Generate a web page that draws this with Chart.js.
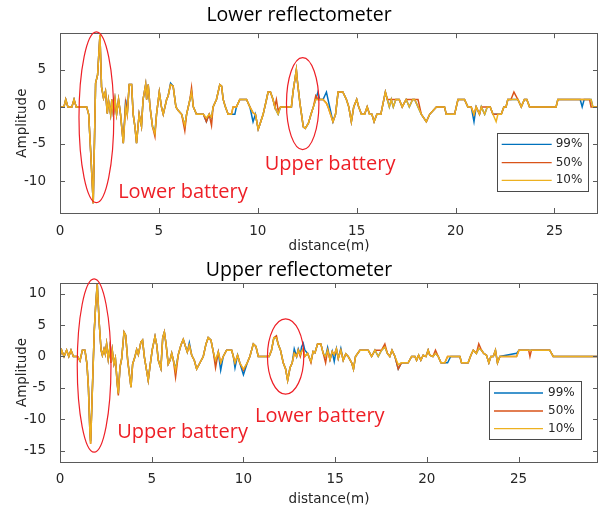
<!DOCTYPE html>
<html>
<head>
<meta charset="utf-8">
<script src="https://cdn.jsdelivr.net/npm/chart.js@4.4.0/dist/chart.umd.min.js"></script>
<style>
  html, body { margin: 0; padding: 0; background: #fff; }
  .plot { position: relative; width: 599px; height: 253px; }
</style>
</head>
<body>
<div class="plot"><canvas id="lowerChart" width="599" height="253"></canvas></div>
<div class="plot"><canvas id="upperChart" width="599" height="253"></canvas></div>
<script>
// —————— DATA ——————
const seriesLabels = ['99%', '50%', '10%'];
const seriesColors = ['#0072BD', '#D95319', '#EDB120'];

const xTicks = [0, 5, 10, 15, 20, 25];
const lowerYTicks = [-10, -5, 0, 5];
const upperYTicks = [-15, -10, -5, 0, 5, 10];

// Lower reflectometer (distance in m)
const lowerDist = [
  0.00, 0.20, 0.29, 0.40, 0.60, 0.71, 0.82, 1.35, 1.45, 1.55,
  1.68, 1.80, 1.90, 2.02, 2.10, 2.20, 2.30, 2.39, 2.45, 2.56,
  2.62, 2.70, 2.78, 2.86, 2.96, 3.06, 3.20, 3.32, 3.40, 3.50,
  3.62, 3.70, 3.79, 3.87, 4.00, 4.12, 4.20, 4.33, 4.38, 4.46,
  4.55, 4.68, 4.80, 4.88, 5.02, 5.13, 5.22, 5.39, 5.47, 5.59,
  5.72, 5.86, 5.98, 6.15, 6.31, 6.40, 6.57, 6.65, 6.74, 6.90,
  7.07, 7.25, 7.40, 7.54, 7.66, 7.74, 7.91, 8.08, 8.17, 8.25,
  8.36, 8.50, 8.67, 8.75, 8.84, 8.92, 9.09, 9.43, 9.60, 9.76,
  9.88, 10.02, 10.10, 10.27, 10.44, 10.52, 10.64, 10.77, 10.86, 10.94,
  11.03, 11.15, 11.70, 11.78, 11.95, 12.00, 12.13, 12.20, 12.30, 12.40,
  12.56, 12.69, 12.81, 12.93, 13.04, 13.13, 13.30, 13.47, 13.55, 13.80,
  13.93, 14.06, 14.30, 14.48, 14.60, 14.73, 14.85, 15.00, 15.10, 15.24,
  15.40, 15.53, 15.65, 15.77, 15.88, 16.02, 16.22, 16.45, 16.55, 16.65,
  16.75, 16.85, 16.98, 17.15, 17.30, 17.50, 17.66, 17.83, 17.93, 18.10,
  18.27, 18.52, 18.69, 19.03, 19.44, 19.53, 19.95, 20.12, 20.45, 20.62,
  20.79, 20.93, 21.04, 21.21, 21.30, 21.47, 21.60, 21.75, 21.89, 22.05,
  22.14, 22.31, 22.44, 22.55, 22.64, 22.80, 22.95, 23.15, 23.32, 23.48,
  23.60, 23.74, 25.08, 25.17, 26.30, 26.40, 26.50, 26.77, 26.85, 26.94,
  27.30
];
const lower99 = [
  0, 0, 1, 0, 0, 1, 0, 0, -1, -6,
  -13, 3.2, 4.3, 9.7, 2.7, 1.2, 2.1, -0.9, 0.9, -1,
  1, -1, 1, -1, 1, -1, -4.9, 1, -1, 3,
  3, -1, -2.7, -4.9, -1, -2.6, 1, 3, 1, 3,
  0, -2.7, -3.4, -1, 2, 0, -1, 1, 1.5, 3.2,
  2.8, 0, -0.5, -1, -2.5, -1, 1, 2, 0, -1,
  -1, -1, -2, -1, -1.5, 0, 1, 3, 2.8, 1,
  0, -1, -1, -1, -1, 0, 1, 1, 0, -2,
  -1, -3, -2.4, -1, 1, 2, 2, 1, 0, -0.5,
  -1, 0, 0, 2, 5, 3.5, 0.5, -0.8, -2.7, -2.9,
  -2.2, -1, 0, 1, 2, 1, 1, 2, 1, -2,
  -1, 2, 2, 1, 0, -2, 0, 1, 0, -1,
  -1, 0, -1, -1, -2, -1, -1, 2, 1, 0,
  1, 0, 1, 1, 0, 1, 0, 1, 1, 0,
  -1, -2, -1, 0, 0, -1, -1, 1, 1, 0,
  0, -2, 0, -1, 0, -1, 0, 0, -1, -1,
  -1, -1, 0, 0, 1, 1, 1, 1, 0, 1,
  1, 0, 0, 1, 1, 0, 1, 1, 1, 0,
  0
];
const lower50 = [
  0, 0, 1, 0, 0, 1, 0, 0, -1, -6,
  -13, 3.2, 4.3, 9.7, 2.7, 1.2, 2.1, -0.9, 0.9, -1,
  1, -1, 1, -1, 1, -1, -4.9, 0.5, -1, 3,
  3, -1, -2.7, -4.9, -1, -2.6, 1, 3, 1, 3,
  0, -2.7, -4, -1, 2, 0, -1, 1, 1.5, 3,
  2.8, 0, -0.5, -1, -3.2, -1, 1, 2.6, 0, -1,
  -1, -1, -2, -1, -2.5, 0, 1, 3, 2.8, 1,
  0, -1, -1, 0, 0, 0, 1, 1, 0, -0.8,
  -1, -3, -2.4, -1, 1, 2, 2, 1, 0, 1,
  -0.5, 0, 0, 2, 5, 3.5, 0.5, -0.8, -2.7, -2.9,
  -2.2, -1, 0, 1.5, 1, 1, 1, 0.5, 0, -2,
  -1, 2, 2, 1, 0, -2, 0, 1, 0, -1,
  -1, 0, -1, -1, -2, -1, -1, 2, 1, 1,
  1, 1, 1, 1, 0, 1, 1, 1, 1, 1,
  -1, -2, -1, 0, 0, -1, -1, 1, 1, 0,
  0, -1, 0, -1, 0, 0, 0, 0, -1, -1,
  -1, -1, 0, 0, 1, 1, 2, 1, 0, 1,
  1, 0, 0, 1, 1, 1, 1, 1, 0, 0,
  0
];
const lower10 = [
  0, 0, 1, 0, 0, 1, 0, 0, -1, -6,
  -13, 3.2, 4.3, 9.7, 2.7, 1.2, 2.1, -0.9, 0.9, -1,
  1, -1, 1, -1, 1, -1, -4.9, 0, -1, 3,
  3, -1, -2.7, -4.9, -1, -2.6, 1, 3, 1, 3,
  0, -2.7, -3.6, -1, 2, 0, -1, 1, 1.5, 3,
  2.8, 0, -0.5, -1, -2.5, -1, 1, 2, 0, -1,
  -1, -1, -1.5, -1, -1.4, 0, 1, 3, 2.8, 1,
  0, -1, -1, 0, 0, 0, 1, 1, 0, -0.8,
  -1, -3, -2.4, -1, 1, 2, 2, 1, 0, -0.5,
  -1, 0, 0, 2, 5, 3.5, 0.5, -0.8, -2.7, -2.9,
  -2.2, -1, 0, 1, 1, 1, 1, 0.5, 0, -2,
  -1, 2, 2, 1, 0, -2, 0, 1, 0, -1,
  -1, 0, -1, -1, -2, -1, -1, 2, 1, 0,
  1, 0, 1, 1, 0, 1, 0, 1, 1, 0,
  -1, -2, -1, 0, 0, -1, -1, 1, 1, 0,
  0, -1, 0, -1, 0, -1, 0, 0, -1, -2,
  -1, -1, 0, 0, 1, 1, 1, 1, 0, 1,
  1, 0, 0, 1, 1, 1, 1, 1, 1, 0,
  0
];

// Upper reflectometer (distance in m)
const upperDist = [
  0.00, 0.09, 0.22, 0.36, 0.48, 0.60, 0.73, 0.96, 1.09, 1.22,
  1.36, 1.47, 1.55, 1.63, 1.67, 1.87, 1.94, 2.03, 2.14, 2.24,
  2.31, 2.40, 2.47, 2.54, 2.63, 2.72, 2.78, 2.85, 2.94, 3.02,
  3.12, 3.18, 3.27, 3.36, 3.49, 3.58, 3.69, 3.87, 3.96, 4.09,
  4.18, 4.27, 4.41, 4.50, 4.60, 4.72, 4.81, 4.90, 5.03, 5.18,
  5.27, 5.36, 5.50, 5.60, 5.69, 5.78, 5.90, 6.00, 6.09, 6.18,
  6.30, 6.45, 6.59, 6.72, 6.85, 6.94, 7.05, 7.18, 7.32, 7.45,
  7.63, 7.81, 7.96, 8.08, 8.23, 8.36, 8.48, 8.63, 8.76, 8.90,
  9.08, 9.36, 9.45, 9.54, 9.68, 9.80, 10.00, 10.21, 10.35, 10.54,
  10.68, 10.81, 11.40, 11.53, 11.66, 11.80, 11.89, 12.02, 12.17, 12.30,
  12.41, 12.54, 12.66, 12.77, 12.90, 12.99, 13.10, 13.17, 13.26, 13.35,
  13.50, 13.68, 13.80, 13.90, 14.04, 14.22, 14.35, 14.48, 14.59, 14.72,
  14.84, 14.95, 15.07, 15.17, 15.31, 15.44, 15.58, 15.71, 15.90, 16.00,
  16.11, 16.35, 16.80, 16.99, 17.17, 17.35, 17.53, 17.71, 17.85, 17.98,
  18.10, 18.26, 18.44, 18.62, 18.98, 19.17, 19.35, 19.44, 19.55, 19.67,
  19.80, 19.95, 20.07, 20.16, 20.33, 20.47, 20.62, 20.77, 20.98, 21.13,
  21.30, 21.80, 21.89, 22.25, 22.40, 22.53, 22.70, 22.83, 22.98, 23.10,
  23.25, 23.38, 23.49, 23.62, 23.74, 23.85, 23.98, 24.89, 25.02, 25.55,
  25.62, 25.70, 26.70, 26.89, 29.30, 29.40
];
const upper99 = [
  0, 1, 0, 1, 0, 1, 0, 0, -0.7, 1,
  1, -1.2, -5, -12, -13.5, 4.2, 7.9, 11.7, 5.2, 1,
  0.2, 1.2, 0.4, 2, -0.4, 1.5, -1, 1, -1.2, -0.3,
  -4.3, -5.9, -1.7, -0.4, 3.9, 3.4, -0.6, -4.9, -1.2, 0,
  1.1, 0.3, 2.3, 2.6, -0.1, -2.2, -3.8, -1.7, 1.1, 3.2,
  1.9, -0.6, -1.9, 3, 3.9, 2, -1.2, -0.6, 0.5, -0.6,
  -2, 0.3, 1.8, 2.7, 1.5, 0.7, 2.2, 0.2, -0.6, -2,
  -1, 0, 2, 3, 2.6, 0.7, -1, 0.7, -2.2, 0,
  1, 1, 0, -1.8, 0.2, -1, -2.9, -1, 0, 2,
  1.6, 0, 0, 1, 3, 3, 2, 1, -1, -2,
  -3.8, -1.8, -1, 1.2, 0, 1.2, 0.3, 1.5, 2.1, 1,
  0.5, -0.8, 0.8, 0.6, 2, 2, 0.5, 0, 1.4, -0.5,
  0.8, -0.8, 1.2, -0.3, 1.3, -0.6, 0.4, 0, -1, -2,
  0, 1, 1, 0, 1, 0, 1, 1.5, 0.5, 0,
  1, 0, -2, -1, -1, 0, 0, -0.6, 0.2, -0.6,
  0.2, 0, 1, 0.2, 0, 0.5, 0, -1, -1, -1,
  0, 0, -1, -1, 0.2, 1, 0.5, 1.3, 1, 0.5,
  0.2, -1, 0, 0, 1, -1, 0, 0.5, 1, 1,
  1, 1, 1, 0, 0, 0.5
];
const upper50 = [
  0, 1, 0, 1, 0, 1, 0, 0, -0.7, 1,
  1, -1.2, -5, -12, -13.9, 4.2, 7.9, 11.5, 5.2, 1,
  0.2, 1.2, 0.4, 2, -0.4, 1.5, -1, 1, -1.2, -0.3,
  -4.3, -6.2, -1.7, -0.4, 3.9, 3.4, -0.6, -4.9, -1.2, 0,
  1.1, 0.3, 2.3, 2.6, -0.1, -2.2, -3.8, -1.7, 1.1, 3.2,
  1.9, -0.6, -1.9, 3, 3.9, 2, -1.2, -0.6, 0.5, -0.6,
  -3.3, 0.3, 1.8, 2.7, 1.5, 0.7, 1.8, 0.2, -0.6, -2,
  -1, 0, 2, 3, 2.6, 0.7, -1.8, 0.7, -1, 0,
  1, 1, 0, -1, 0.2, -1, -2.2, -1, 0, 2,
  1.6, 0, 0, 1, 3, 3.3, 2, 1, -1, -2,
  -3.8, -1.8, -1, 0.5, 0, 1, 0, 0.8, 1.2, 0,
  0.5, -1, 0.8, 0.6, 2, 2, 0.5, -1, 1, -0.5,
  0.8, 0.3, 1.2, -0.3, 1, -0.6, 0.4, 0, -1, -2,
  0, 1, 1, 0, 1, 1, 1, 2, 0.5, 0,
  1, 0, -2, -1, -1, 0, 0, -0.6, 0.2, -0.6,
  0.2, 0, 1, 0.2, 0, 1, 0, -1, -1, 0,
  0, 0, -1, -1, 0.2, 1, 0.5, 2, 1, 0.5,
  0.2, -1, 0, 0, 1, -1, 0, 0, 1, 1,
  0, 1, 1, 0, 0, 0.5
];
const upper10 = [
  0, 1, 0, 1, 0, 1, 0, 0, -0.7, 1,
  1, -1.2, -5, -12, -13.9, 4.2, 7.9, 11.5, 5.2, 1,
  0.2, 1.2, 0.4, 2, -0.4, 1.5, -1, 1, -1.2, -0.3,
  -4.3, -5.9, -1.7, -0.4, 3.9, 3.4, -0.6, -4.9, -1.2, 0,
  1.1, 0.3, 2.3, 2.6, -0.1, -2.2, -3.8, -1.7, 1.1, 3.2,
  1.9, -0.6, -1.9, 3, 3.9, 2, -1.2, -0.6, 0.5, -0.6,
  -2.2, 0.3, 1.8, 2.7, 1.5, 0.7, 1.8, 0.2, -0.6, -2,
  -1, 0, 2, 3, 2.6, 0.7, -0.6, 0.7, -1, 0,
  1, 1, 0, -1, 0.2, -1, -2, -1, 0, 2,
  1.6, 0, 0, 1, 3, 3, 2, 1, -1, -2,
  -3.8, -1.8, -1, 0.5, 0, 1, 0.3, 0.8, 1.2, 0,
  0.5, -0.8, 0.8, 0.6, 2, 2, 0.5, 0, 1, -0.5,
  0.8, 0.3, 1.2, -0.3, 1, -0.6, 0.4, 0, -1, -2,
  0, 1, 1, 0, 1, 0, 1, 1.5, 0.5, 0,
  1, 0, -1.3, -1, -1, 0, 0, -0.6, 0.2, -0.6,
  0.2, 0, 1, 0.2, 0, 0.5, 0, -1, -1, 0,
  0, 0, -1, -1, 0.2, 1, 0.5, 1.3, 1, 0.5,
  0.2, -1, 0, 0, 1, -1, 0, 0, 1, 1,
  1, 1, 1, 0, 0, 0.5
];

// —————— HELPERS ——————
const axisFont = { family: 'DejaVu Sans', size: 13.5 };
const axisColor = '#262626';
const frameColor = '#5a5a5a';
const noteColor = '#ee1f26';

function pontos(xs, ys) {
  return xs.map((x, i) => ({ x: x, y: ys[i] }));
}

// Desenha a moldura, os ticks internos, as elipses, as notas e a legenda
const framePlugin = {
  id: 'frameNotes',
  afterDatasetsDraw(chart, args, opts) {
    const ctx = chart.ctx;
    const a = chart.chartArea;
    const sx = chart.scales.x;
    const sy = chart.scales.y;
    ctx.save();

    // moldura
    ctx.strokeStyle = frameColor;
    ctx.lineWidth = 1;
    ctx.strokeRect(Math.round(a.left) + 0.5, Math.round(a.top) + 0.5,
      Math.round(a.right - a.left) - 1, Math.round(a.bottom - a.top));

    // ticks para dentro
    ctx.beginPath();
    sx.ticks.forEach(t => {
      const px = Math.round(sx.getPixelForValue(t.value)) + 0.5;
      ctx.moveTo(px, a.bottom); ctx.lineTo(px, a.bottom - 5);
      ctx.moveTo(px, a.top); ctx.lineTo(px, a.top + 5);
    });
    sy.ticks.forEach(t => {
      const py = Math.round(sy.getPixelForValue(t.value)) + 0.5;
      ctx.moveTo(a.left, py); ctx.lineTo(a.left + 5, py);
      ctx.moveTo(a.right, py); ctx.lineTo(a.right - 5, py);
    });
    ctx.stroke();

    // elipses vermelhas
    ctx.strokeStyle = noteColor;
    ctx.lineWidth = 1.2;
    opts.ellipses.forEach(e => {
      const cx = sx.getPixelForValue(e.x);
      const cy = sy.getPixelForValue(e.y);
      const rx = Math.abs(sx.getPixelForValue(e.x + e.rx) - cx);
      const ry = Math.abs(sy.getPixelForValue(e.y + e.ry) - cy);
      ctx.beginPath();
      ctx.ellipse(cx, cy, rx, ry, 0, 0, Math.PI * 2);
      ctx.stroke();
    });

    // textos
    ctx.fillStyle = noteColor;
    ctx.font = '20px "Open Sans"';
    ctx.textAlign = 'left';
    ctx.textBaseline = 'middle';
    opts.notes.forEach(n => {
      ctx.fillText(n.text, sx.getPixelForValue(n.x), sy.getPixelForValue(n.y));
    });

    // legenda
    const lg = opts.legend;
    const bx = a.right - lg.right - lg.w;
    const by = a.bottom - lg.bottom - lg.h;
    ctx.fillStyle = '#fff';
    ctx.fillRect(bx, by, lg.w, lg.h);
    ctx.strokeStyle = '#4a4a4a';
    ctx.lineWidth = 1;
    ctx.strokeRect(Math.round(bx) + 0.5, Math.round(by) + 0.5, Math.round(lg.w), Math.round(lg.h));
    ctx.font = '12px "DejaVu Sans"';
    ctx.fillStyle = axisColor;
    chart.data.datasets.forEach((ds, i) => {
      const y = by + lg.rows[i];
      ctx.strokeStyle = ds.borderColor;
      ctx.lineWidth = 1.3;
      ctx.beginPath();
      ctx.moveTo(bx + 5, y); ctx.lineTo(bx + lg.lineEnd, y);
      ctx.stroke();
      ctx.fillText(ds.label, bx + 59, y);
    });
    ctx.restore();
  }
};

// Cria um dos dois gráficos
function criarGrafico(id, cfg) {
  const ctx = document.getElementById(id).getContext('2d');
  const valores = [cfg.s99, cfg.s50, cfg.s10];
  return new Chart(ctx, {
    type: 'line',
    data: {
      datasets: valores.map((v, i) => ({
        label: seriesLabels[i],
        data: pontos(cfg.dist, v),
        borderColor: seriesColors[i],
        borderWidth: 1.5,
        pointRadius: 0,
        tension: 0,
        fill: false,
        order: 3 - i
      }))
    },
    options: {
      responsive: false,
      animation: false,
      layout: { padding: { left: 0, right: 1, top: 0, bottom: 0 } },
      plugins: {
        legend: { display: false },
        tooltip: { enabled: false },
        title: {
          display: true,
          text: cfg.title,
          color: '#000',
          font: { family: 'Open Sans', size: 19.5, weight: 'normal', lineHeight: 1.2 },
          padding: cfg.titlePad
        },
        frameNotes: {
          ellipses: cfg.ellipses,
          notes: cfg.notes,
          legend: cfg.legend
        }
      },
      scales: {
        x: {
          type: 'linear',
          min: 0,
          max: cfg.xMax,
          afterBuildTicks: s => { s.ticks = xTicks.map(v => ({ value: v })); },
          afterFit: s => { s.height = cfg.xAxisH; },
          grid: { display: false },
          border: { display: false },
          ticks: { color: axisColor, font: axisFont, padding: cfg.xTickPad, maxRotation: 0 },
          title: { display: true, text: 'distance(m)', color: axisColor, font: axisFont, padding: { top: 0, bottom: -2 } }
        },
        y: {
          type: 'linear',
          min: cfg.yMin,
          max: cfg.yMax,
          afterBuildTicks: s => { s.ticks = cfg.yTicks.map(v => ({ value: v })); },
          afterFit: s => { s.width = 60; },
          grid: { display: false },
          border: { display: false },
          ticks: { color: axisColor, font: axisFont, padding: 6 },
          title: { display: true, text: 'Amplitude', color: axisColor, font: axisFont, padding: { top: 14, bottom: 0 } }
        }
      }
    },
    plugins: [framePlugin]
  });
}

document.addEventListener('DOMContentLoaded', () => {
  criarGrafico('lowerChart', {
    title: 'Lower reflectometer',
    titlePad: { top: 4.2, bottom: 5.6 },
    dist: lowerDist, s99: lower99, s50: lower50, s10: lower10,
    xMax: 27.2, yMin: -14.3, yMax: 9.93, yTicks: lowerYTicks,
    xAxisH: 40, xTickPad: 2,
    ellipses: [
      { x: 1.84, y: -1.4, rx: 0.88, ry: 11.5 },
      { x: 12.27, y: 0.45, rx: 0.82, ry: 6.2 }
    ],
    notes: [
      { text: 'Lower battery', x: 2.94, y: -11.5 },
      { text: 'Upper battery', x: 10.35, y: -7.8 }
    ],
    legend: { right: 10.3, bottom: 22, w: 91, h: 58, rows: [11.3, 29.6, 47.3], lineEnd: 55 }
  });

  criarGrafico('upperChart', {
    title: 'Upper reflectometer',
    titlePad: { top: 5.3, bottom: 1.3 },
    dist: upperDist, s99: upper99, s50: upper50, s10: upper10,
    xMax: 29.33, yMin: -16.8, yMax: 11.7, yTicks: upperYTicks,
    xAxisH: 44, xTickPad: 1,
    ellipses: [
      { x: 1.86, y: -1.44, rx: 0.92, ry: 13.8 },
      { x: 12.3, y: 0, rx: 0.99, ry: 6.0 }
    ],
    notes: [
      { text: 'Upper battery', x: 3.12, y: -12.0 },
      { text: 'Lower battery', x: 10.63, y: -9.5 }
    ],
    legend: { right: 17, bottom: 22.7, w: 92, h: 58, rows: [11.7, 29.7, 47.3], lineEnd: 54 }
  });
});
</script>
</body>
</html>
